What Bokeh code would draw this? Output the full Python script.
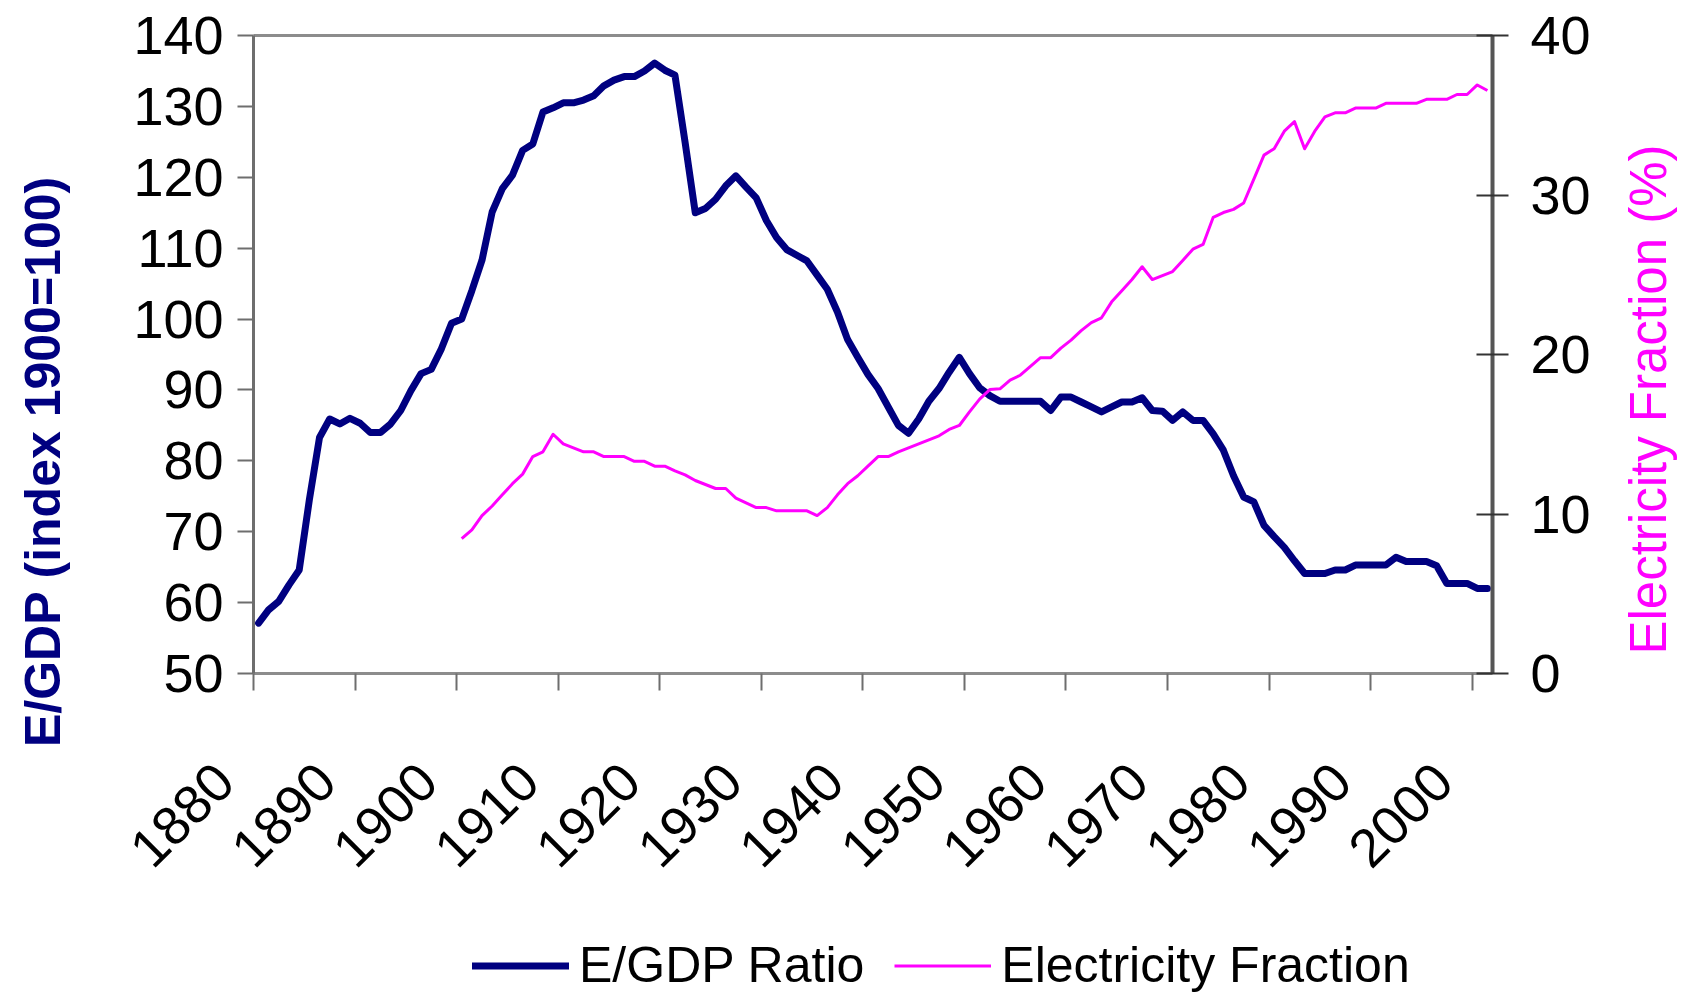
import numpy as np
from math import pi
from bokeh.plotting import figure
from bokeh.models import (Range1d, LinearAxis, FixedTicker, Legend, LegendItem, Label)
from bokeh.embed import file_html
from bokeh.resources import INLINE

# ---------------- data ----------------
egdp_start_year = 1880
egdp_ratio = [
    57.1, 59.0, 60.2, 62.5, 64.6, 74.5, 83.3, 85.9, 85.2, 86.0,      # 1880-1889
    85.3, 84.0, 84.0, 85.2, 87.1, 89.9, 92.3, 92.9, 95.8, 99.4,      # 1890-1899
    100.0, 104.0, 108.3, 115.1, 118.4, 120.3, 123.8, 124.7, 129.2, 129.8,  # 1900s
    130.5, 130.5, 130.9, 131.5, 132.9, 133.7, 134.2, 134.2, 135.0, 136.1,  # 1910s
    135.1, 134.4, 124.9, 115.0, 115.6, 116.9, 118.8, 120.2, 118.6, 117.1,  # 1920s
    113.9, 111.5, 109.8, 109.0, 108.2, 106.2, 104.2, 101.0, 97.1, 94.6,    # 1930s
    92.2, 90.2, 87.6, 85.0, 83.9, 85.9, 88.4, 90.2, 92.5, 94.6,            # 1940s
    92.3, 90.3, 89.2, 88.4, 88.4, 88.4, 88.4, 88.4, 87.1, 89.0,            # 1950s
    89.0, 88.3, 87.6, 86.9, 87.6, 88.3, 88.3, 88.9, 87.1, 87.0,            # 1960s
    85.7, 86.9, 85.7, 85.7, 83.8, 81.5, 77.9, 74.9, 74.2, 70.9,            # 1970s
    69.3, 67.8, 65.9, 64.1, 64.1, 64.1, 64.6, 64.6, 65.3, 65.3,            # 1980s
    65.3, 65.3, 66.4, 65.8, 65.8, 65.8, 65.2, 62.7, 62.7, 62.7,            # 1990s
    62.0, 62.0,                                                            # 2000-2001
]

elec_start_year = 1900
electricity_fraction = [
    8.45, 9.0, 9.9, 10.5, 11.2, 11.9, 12.5, 13.6, 13.9, 15.0,     # 1900s
    14.4, 14.15, 13.9, 13.9, 13.6, 13.6, 13.6, 13.3, 13.3, 13.0,  # 1910s
    13.0, 12.7, 12.45, 12.1, 11.85, 11.6, 11.6, 11.0, 10.7, 10.4, # 1920s
    10.4, 10.2, 10.2, 10.2, 10.2, 9.9, 10.4, 11.2, 11.9, 12.4,    # 1930s
    13.0, 13.6, 13.6, 13.9, 14.15, 14.4, 14.65, 14.9, 15.3, 15.55,  # 1940s
    16.4, 17.2, 17.8, 17.85, 18.4, 18.7, 19.25, 19.8, 19.8, 20.4,   # 1950s
    20.9, 21.5, 22.0, 22.3, 23.3, 24.0, 24.7, 25.5, 24.7, 24.95,    # 1960s
    25.2, 25.9, 26.6, 26.9, 28.6, 28.9, 29.1, 29.5, 31.0, 32.5,     # 1970s
    32.9, 34.0, 34.6, 32.9, 34.0, 34.9, 35.15, 35.15, 35.45, 35.45, # 1980s
    35.45, 35.75, 35.75, 35.75, 35.75, 36.0, 36.0, 36.0, 36.3, 36.3,  # 1990s
    36.9, 36.55,                                                     # 2000-2001
]

decade_ticks = list(range(1880, 2001, 10))
left_ticks = list(range(50, 141, 10))
right_ticks = [0, 10, 20, 30, 40]

# categories are centred between decade tick marks
x_egdp = np.arange(egdp_start_year, egdp_start_year + len(egdp_ratio)) + 0.5
x_elec = np.arange(elec_start_year, elec_start_year + len(electricity_fraction)) + 0.5

# ---------------- layout ----------------
# The whole canvas is the frame; the Excel-style plot box sits inside it and
# its axes are pinned to the box edges with fixed_location.
FRAME_W, FRAME_H = 1685, 995
BOX_L, BOX_R, BOX_T, BOX_B = 253, 1492, 35, 673
X0, X1 = 1880, 2002          # category span (122 years)
Y0, Y1 = 50, 140             # left axis
E0, E1 = 0, 40               # right axis

px_x = (BOX_R - BOX_L) / (X1 - X0)
px_y = (BOX_B - BOX_T) / (Y1 - Y0)
px_e = (BOX_B - BOX_T) / (E1 - E0)
x_range = Range1d(X0 - BOX_L / px_x, X1 + (FRAME_W - BOX_R) / px_x)
y_range = Range1d(Y0 - (FRAME_H - BOX_B) / px_y, Y1 + BOX_T / px_y)
e_range = Range1d(E0 - (FRAME_H - BOX_B) / px_e, E1 + BOX_T / px_e)
# Excel hangs the slanted year labels a little left of their tick marks
LABEL_SHIFT = 29 / px_x
label_range = Range1d(x_range.start + LABEL_SHIFT, x_range.end + LABEL_SHIFT)

FONT = "Liberation Sans"
NAVY = "#000080"
MAGENTA = "#FF00FF"
AXIS_GREY = "#6e6e6e"
BOX_GREY = "#8c8c8c"
TICK_FS = "54px"

p = figure(frame_width=FRAME_W, frame_height=FRAME_H,
           x_range=x_range, y_range=y_range,
           output_backend="svg", toolbar_location=None, min_border=0,
           background_fill_color="white", border_fill_color="white")
p.extra_y_ranges = {"elec": e_range}
p.extra_x_ranges = {"year_labels": label_range}
p.xgrid.visible = False
p.ygrid.visible = False
p.outline_line_color = None


def no_minor(ax):
    ax.minor_tick_out = 0
    ax.minor_tick_in = 0


# bottom axis: line and tick marks
xa = p.xaxis[0]
xa.fixed_location = Y0
xa.bounds = (X0, X1)
xa.ticker = FixedTicker(ticks=decade_ticks)
xa.major_tick_out = 17
xa.major_tick_in = 0
no_minor(xa)
xa.major_tick_line_color = AXIS_GREY
xa.major_tick_line_width = 2
xa.axis_line_color = BOX_GREY
xa.axis_line_width = 3
xa.major_label_overrides = {t: "" for t in decade_ticks}

# bottom axis: slanted year labels
xl = LinearAxis(x_range_name="year_labels", ticker=FixedTicker(ticks=decade_ticks),
                fixed_location=Y0)
xl.axis_line_color = None
xl.major_tick_out = 0
xl.major_tick_in = 0
xl.major_tick_line_color = None
no_minor(xl)
xl.major_label_orientation = pi / 4
xl.major_label_text_font = FONT
xl.major_label_text_font_size = TICK_FS
xl.major_label_text_color = "black"
xl.major_label_standoff = 99
p.add_layout(xl, "below")

# top edge of the plot box
xt = LinearAxis(ticker=FixedTicker(ticks=[]), fixed_location=Y1, bounds=(X0, X1))
xt.axis_line_color = BOX_GREY
xt.axis_line_width = 3
xt.major_tick_out = 0
xt.major_tick_in = 0
no_minor(xt)
p.add_layout(xt, "above")

# left axis
ya = p.yaxis[0]
ya.fixed_location = X0
ya.bounds = (Y0, Y1)
ya.ticker = FixedTicker(ticks=left_ticks)
ya.major_tick_out = 16
ya.major_tick_in = 0
no_minor(ya)
ya.major_tick_line_color = AXIS_GREY
ya.major_tick_line_width = 2
ya.axis_line_color = AXIS_GREY
ya.axis_line_width = 3
ya.major_label_text_font = FONT
ya.major_label_text_font_size = TICK_FS
ya.major_label_text_color = "black"
ya.major_label_standoff = 14

# right axis
ra = LinearAxis(y_range_name="elec", ticker=FixedTicker(ticks=right_ticks),
                fixed_location=X1, bounds=(E0, E1))
ra.major_tick_out = 16
ra.major_tick_in = 16
no_minor(ra)
ra.major_tick_line_color = "#333333"
ra.major_tick_line_width = 2
ra.axis_line_color = "#555555"
ra.axis_line_width = 4
ra.major_label_text_font = FONT
ra.major_label_text_font_size = TICK_FS
ra.major_label_text_color = "black"
ra.major_label_standoff = 22
p.add_layout(ra, "right")

r1 = p.line(x_egdp, egdp_ratio, line_color=NAVY, line_width=7,
            line_join="round", line_cap="round")
r2 = p.line(x_elec, electricity_fraction, y_range_name="elec",
            line_color=MAGENTA, line_width=3, line_join="round")

# axis titles (screen units measured from the canvas' bottom-left corner)
p.add_layout(Label(x=42, y=FRAME_H - 461, x_units="screen", y_units="screen",
                   text="E/GDP (index 1900=100)", angle=pi / 2,
                   text_align="center", text_baseline="middle",
                   text_font=FONT, text_font_size="50px",
                   text_font_style="bold", text_color=NAVY))
p.add_layout(Label(x=1648, y=FRAME_H - 399, x_units="screen", y_units="screen",
                   text="Electricity Fraction (%)", angle=pi / 2,
                   text_align="center", text_baseline="middle",
                   text_font=FONT, text_font_size="51px",
                   text_color=MAGENTA))

legend = Legend(items=[LegendItem(label="E/GDP Ratio", renderers=[r1]),
                       LegendItem(label="Electricity Fraction", renderers=[r2])],
                orientation="horizontal", location=(472, 1),
                glyph_width=97, glyph_height=49, label_height=49,
                label_standoff=10, spacing=30, padding=0, margin=0,
                border_line_color=None, background_fill_alpha=0,
                label_text_font=FONT, label_text_font_size="50px",
                label_text_color="black")
p.add_layout(legend)

open("out.html", "w").write(file_html(p, INLINE))
